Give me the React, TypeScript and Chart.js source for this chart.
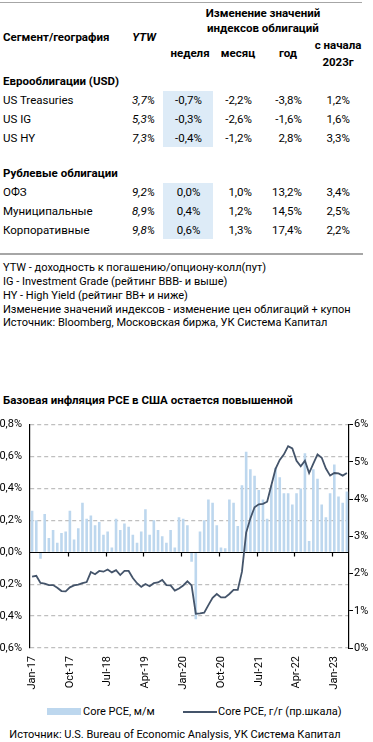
import React, { useEffect, useRef } from 'react';
import { Chart, registerables } from 'chart.js';

Chart.register(...registerables);

const FONT = 'Roboto, "Noto Sans", sans-serif';

// ---------- Table data ----------
const euroNames = ['US Treasuries', 'US IG', 'US HY'];
const euroYtw = [3.7, 5.3, 7.3];
const euroWeek = [-0.7, -0.3, -0.4];
const euroMonth = [-2.2, -2.6, -1.2];
const euroYear = [-3.8, -1.6, 2.8];
const euroYtd = [1.2, 1.6, 3.3];

const rubNames = ['ОФЗ', 'Муниципальные', 'Корпоративные'];
const rubYtw = [9.2, 8.9, 9.8];
const rubWeek = [0.0, 0.4, 0.6];
const rubMonth = [1.0, 1.2, 1.3];
const rubYear = [13.2, 14.5, 17.4];
const rubYtd = [3.4, 2.5, 2.2];

const notes = [
  'YTW - доходность к погашению/опциону-колл(пут)',
  'IG - Investment Grade (рейтинг BBB- и выше)',
  'HY - High Yield (рейтинг BB+ и ниже)',
  'Изменение значений индексов - изменение цен облигаций + купон',
  'Источник: Bloomberg, Московская биржа, УК Система Капитал',
];

// ---------- Chart data ----------
const months = [
  'Jan-17', 'Feb-17', 'Mar-17', 'Apr-17', 'May-17', 'Jun-17', 'Jul-17', 'Aug-17', 'Sep-17', 'Oct-17', 'Nov-17', 'Dec-17',
  'Jan-18', 'Feb-18', 'Mar-18', 'Apr-18', 'May-18', 'Jun-18', 'Jul-18', 'Aug-18', 'Sep-18', 'Oct-18', 'Nov-18', 'Dec-18',
  'Jan-19', 'Feb-19', 'Mar-19', 'Apr-19', 'May-19', 'Jun-19', 'Jul-19', 'Aug-19', 'Sep-19', 'Oct-19', 'Nov-19', 'Dec-19',
  'Jan-20', 'Feb-20', 'Mar-20', 'Apr-20', 'May-20', 'Jun-20', 'Jul-20', 'Aug-20', 'Sep-20', 'Oct-20', 'Nov-20', 'Dec-20',
  'Jan-21', 'Feb-21', 'Mar-21', 'Apr-21', 'May-21', 'Jun-21', 'Jul-21', 'Aug-21', 'Sep-21', 'Oct-21', 'Nov-21', 'Dec-21',
  'Jan-22', 'Feb-22', 'Mar-22', 'Apr-22', 'May-22', 'Jun-22', 'Jul-22', 'Aug-22', 'Sep-22', 'Oct-22', 'Nov-22', 'Dec-22',
  'Jan-23', 'Feb-23', 'Mar-23', 'Apr-23',
];

const corePceMoM = [
  0.26, 0.20, -0.04, 0.24, 0.09, 0.14, 0.06, 0.12, 0.13, 0.26, 0.08, 0.15,
  0.31, 0.21, 0.23, 0.17, 0.19, 0.11, 0.13, 0.03, 0.21, 0.14, 0.18, 0.16,
  0.11, 0.06, 0.13, 0.27, 0.11, 0.20, 0.14, 0.10, 0.06, 0.14, 0.03, 0.22,
  0.21, 0.17, -0.06, -0.42, 0.13, 0.20, 0.33, 0.31, 0.17, 0.03, 0.025, 0.33,
  0.31, 0.165, 0.42, 0.63, 0.52, 0.48, 0.39, 0.33, 0.21, 0.42, 0.53, 0.47,
  0.37, 0.37, 0.30, 0.37, 0.40, 0.62, 0.07, 0.52, 0.46, 0.30, 0.22, 0.37,
  0.55, 0.35, 0.31, 0.38,
];

const corePceYoY = [
  1.92, 1.94, 1.75, 1.73, 1.69, 1.69, 1.62, 1.53, 1.52, 1.63, 1.68, 1.70,
  1.74, 1.77, 2.04, 1.98, 2.07, 2.05, 2.11, 2.03, 2.09, 1.96, 2.07, 2.07,
  1.88, 1.74, 1.64, 1.72, 1.66, 1.74, 1.76, 1.83, 1.69, 1.68, 1.54, 1.60,
  1.68, 1.79, 1.68, 0.92, 0.93, 0.95, 1.15, 1.35, 1.45, 1.36, 1.36, 1.45,
  1.56, 1.56, 2.05, 3.10, 3.48, 3.78, 3.86, 3.87, 3.93, 4.37, 4.81, 5.05,
  5.20, 5.42, 5.36, 5.03, 4.88, 5.03, 4.70, 4.95, 5.20, 5.11, 4.82, 4.63,
  4.70, 4.69, 4.63, 4.70,
];

const TICK_EVERY = 9;
const BAR_COLOR = '#BDD7EE';
const LINE_COLOR = '#44546A';

const pct = (v: number) => v.toFixed(1).replace('.', ',') + '%';

function Txt(props: any) {
  const { x, y, children, align = 'left', bold = false, italic = false, size = 11.5, w = 200 } = props;
  const style: any = {
    position: 'absolute',
    top: y - size * 0.62,
    lineHeight: `${Math.round(size * 1.24)}px`,
    fontSize: size,
    fontWeight: bold ? 700 : 400,
    fontStyle: italic ? 'italic' : 'normal',
    whiteSpace: 'nowrap',
  };
  if (align === 'left') style.left = x;
  else if (align === 'right') { style.left = x - w; style.width = w; style.textAlign = 'right'; }
  else { style.left = x - w / 2; style.width = w; style.textAlign = 'center'; }
  return <div style={style}>{children}</div>;
}

function TableBlock(props: any) {
  const { names, ytw, week, month, year, ytd, y0 } = props;
  const step = 18.7;
  return (
    <>
      <div style={{ position: 'absolute', left: 163, top: y0 - 9.3, width: 50, height: step * 3, background: '#DDEBF7' }} />
      {names.map((n: string, i: number) => {
        const y = y0 + i * step + 0.5;
        return (
          <React.Fragment key={n}>
            <Txt x={3} y={y}>{n}</Txt>
            <Txt x={155} y={y} align="right" italic>{pct(ytw[i])}</Txt>
            <Txt x={188.5} y={y} align="center" w={60}>{pct(week[i])}</Txt>
            <Txt x={252} y={y} align="right">{pct(month[i])}</Txt>
            <Txt x={302} y={y} align="right">{pct(year[i])}</Txt>
            <Txt x={350} y={y} align="right">{pct(ytd[i])}</Txt>
          </React.Fragment>
        );
      })}
    </>
  );
}

const zeroAxisPlugin = {
  id: 'zeroAxis',
  afterDatasetDraw(chart: any, args: any) {
    if (args.index !== 0) return;
    const { ctx, chartArea, scales } = chart;
    const y0 = Math.round(scales.y.getPixelForValue(0)) + 0.5;
    const n = chart.data.labels.length;
    const w = (chartArea.right - chartArea.left) / n;
    ctx.save();
    ctx.strokeStyle = '#000';
    ctx.lineWidth = 1.2;
    ctx.beginPath();
    ctx.moveTo(chartArea.left, y0);
    ctx.lineTo(chartArea.right, y0);
    for (let i = TICK_EVERY; i < n; i += TICK_EVERY) {
      const xx = Math.round(chartArea.left + i * w) + 0.5;
      ctx.moveTo(xx, y0);
      ctx.lineTo(xx, y0 + 4);
    }
    ctx.stroke();
    ctx.restore();
  },
};

function PceChart() {
  const ref = useRef<HTMLCanvasElement>(null);
  useEffect(() => {
    const canvas = ref.current;
    if (!canvas) return;
    const tickFont = { family: FONT, size: 11 };
    const chart = new Chart(canvas, {
      type: 'bar',
      data: {
        labels: months,
        datasets: [
          {
            type: 'bar',
            label: 'Core PCE, м/м',
            data: corePceMoM,
            backgroundColor: BAR_COLOR,
            borderWidth: 0,
            barPercentage: 0.62,
            categoryPercentage: 1,
            yAxisID: 'y',
            order: 1,
          },
          {
            type: 'line',
            label: 'Core PCE, г/г (пр.шкала)',
            data: corePceYoY,
            borderColor: LINE_COLOR,
            borderWidth: 1.8,
            pointRadius: 0,
            tension: 0,
            yAxisID: 'y1',
            order: 0,
          },
        ] as any,
      },
      options: {
        responsive: false,
        animation: false,
        devicePixelRatio: 1,
        layout: { padding: { top: 9, left: 0, right: 0, bottom: 0 } },
        plugins: { legend: { display: false }, tooltip: { enabled: false }, title: { display: false } },
        scales: {
          x: {
            grid: { display: false, drawTicks: false },
            border: { display: false },
            ticks: {
              autoSkip: false,
              minRotation: 90,
              maxRotation: 90,
              padding: 8,
              color: '#000',
              font: tickFont,
              callback: (_v: any, i: number) => (i % TICK_EVERY === 0 ? months[i] : ''),
            },
            afterFit: (s: any) => { s.height = 47; },
          },
          y: {
            position: 'left',
            min: -0.6,
            max: 0.8,
            ticks: {
              stepSize: 0.2,
              padding: 8,
              color: '#000',
              font: tickFont,
              callback: (v: any) => (Math.abs(v) < 1e-9 ? '0,0%' : pct(Number(v))),
            },
            grid: {
              color: (c: any) => (c.tick && Math.abs(c.tick.value) < 1e-9 ? 'rgba(0,0,0,0)' : '#BFBFBF'),
              lineWidth: 1.2,
              drawTicks: false,
            },
            border: { display: true, color: '#000', width: 1.2, dash: [4, 3] },
            afterFit: (s: any) => { s.width = 36; },
          },
          y1: {
            position: 'right',
            min: 0,
            max: 6,
            ticks: {
              stepSize: 1,
              padding: 1,
              color: '#000',
              font: tickFont,
              callback: (v: any) => `${v}%`,
            },
            grid: { drawOnChartArea: false, tickLength: 4, tickColor: '#000', tickWidth: 1 },
            border: { display: true, color: '#000', width: 1.2 },
            afterFit: (s: any) => { s.width = 30; },
          },
        },
      } as any,
      plugins: [zeroAxisPlugin],
    });
    return () => chart.destroy();
  }, []);
  return (
    <canvas
      ref={ref}
      width={385}
      height={285}
      style={{ position: 'absolute', left: -6, top: 410, width: 385, height: 285 }}
    />
  );
}

export default function App() {
  return (
    <div
      style={{
        position: 'absolute',
        left: 0,
        top: 0,
        width: 373,
        height: 742,
        overflow: 'hidden',
        background: '#fff',
        fontFamily: FONT,
        color: '#000',
      }}
    >
      {/* table rules */}
      <div style={{ position: 'absolute', left: 0, top: 2, width: 362, height: 1, background: '#A6A6A6' }} />
      <div style={{ position: 'absolute', left: 0, top: 253, width: 363, height: 1.5, background: '#A6A6A6' }} />

      {/* header */}
      <Txt x={263} y={13} align="center" bold>Изменение значений</Txt>
      <Txt x={263} y={28} align="center" bold>индексов облигаций</Txt>
      <Txt x={3} y={37} bold>Сегмент/география</Txt>
      <Txt x={156} y={37} align="right" bold italic>YTW</Txt>
      <Txt x={190} y={53} align="center" bold>неделя</Txt>
      <Txt x={238} y={53} align="center" bold>месяц</Txt>
      <Txt x={288} y={53} align="center" bold>год</Txt>
      <Txt x={338} y={45} align="center" bold>с начала</Txt>
      <Txt x={338} y={62} align="center" bold>2023г</Txt>

      <Txt x={3} y={81} bold>Еврооблигации (USD)</Txt>
      <TableBlock names={euroNames} ytw={euroYtw} week={euroWeek} month={euroMonth} year={euroYear} ytd={euroYtd} y0={100} />

      <Txt x={3} y={173} bold>Рублевые облигации</Txt>
      <TableBlock names={rubNames} ytw={rubYtw} week={rubWeek} month={rubMonth} year={rubYear} ytd={rubYtd} y0={192} />

      {notes.map((t, i) => (
        <Txt key={i} x={3} y={268.3 + i * 13.75} size={11}>{t}</Txt>
      ))}

      <Txt x={3} y={400} bold>Базовая инфляция PCE в США остается повышенной</Txt>

      <PceChart />

      {/* legend */}
      <div style={{ position: 'absolute', left: 47, top: 708, width: 34, height: 7, background: BAR_COLOR }} />
      <Txt x={83} y={712} size={11}>Core PCE, м/м</Txt>
      <div style={{ position: 'absolute', left: 183, top: 711, width: 34, height: 2, background: LINE_COLOR }} />
      <Txt x={218} y={712} size={11}>Core PCE, г/г (пр.шкала)</Txt>

      <Txt x={175} y={735} align="center" w={373} size={11}>Источник: U.S. Bureau of Economic Analysis, УК Система Капитал</Txt>
    </div>
  );
}
